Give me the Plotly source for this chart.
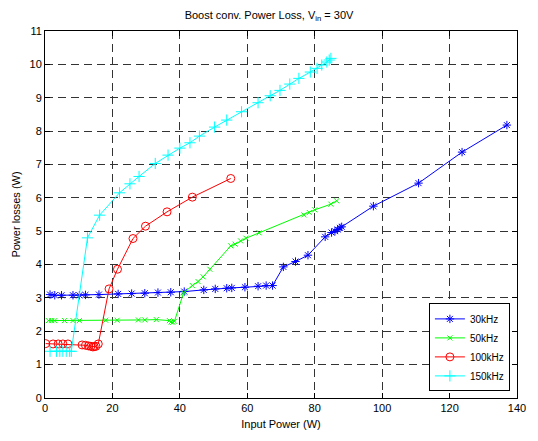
import plotly.graph_objects as go

# 30 kHz
x30 = [1.5, 2.9, 4.9, 8.3, 10.2, 12.0, 16.0, 21.7, 25.7, 29.6, 33.5, 37.3, 41.3, 47.1, 50.5,
       53.9, 55.4, 59.3, 63.2, 65.6, 67.5, 70.7, 74.3, 78.0, 83.1, 85.0, 86.0, 86.8, 87.5,
       88.0, 97.4, 110.8, 123.7, 137.0]
y30 = [3.10, 3.08, 3.08, 3.08, 3.08, 3.09, 3.10, 3.12, 3.13, 3.14, 3.16, 3.17, 3.19, 3.24, 3.27,
       3.29, 3.30, 3.32, 3.35, 3.37, 3.37, 3.93, 4.09, 4.28, 4.83, 4.96, 5.00, 5.05, 5.10,
       5.13, 5.75, 6.44, 7.37, 8.18]

# 50 kHz
x50 = [1.0, 2.0, 2.9, 5.8, 8.3, 10.2, 18.0, 21.4, 27.7, 29.6, 33.0, 36.9, 37.4, 37.9, 38.4,
       41.1, 43.7, 45.4, 46.9, 48.9, 55.1, 56.4, 58.0, 59.6, 63.5, 76.8, 78.4, 80.0, 84.8, 86.5]
y50 = [2.32, 2.32, 2.32, 2.32, 2.32, 2.32, 2.33, 2.33, 2.34, 2.34, 2.35, 2.32, 2.28, 2.27, 2.30,
       3.15, 3.37, 3.49, 3.63, 3.86, 4.56, 4.61, 4.71, 4.79, 4.95, 5.49, 5.56, 5.64, 5.81, 5.91]

# 100 kHz
x100 = [0.2, 2.4, 3.9, 5.3, 6.8, 11.0, 12.0, 12.9, 13.6, 14.2, 14.6, 15.1, 15.8,
        19.0, 21.5, 26.1, 29.8, 36.2, 43.7, 55.1]
y100 = [1.63, 1.62, 1.62, 1.62, 1.62, 1.59, 1.58, 1.56, 1.55, 1.53, 1.54, 1.55, 1.62,
        3.27, 3.86, 4.78, 5.15, 5.58, 6.02, 6.58]

# 150 kHz
x150 = [1.5, 3.4, 4.4, 5.3, 6.3, 7.3, 7.8, 12.6, 16.2, 22.1, 25.2, 27.9, 32.7, 36.5, 40.0,
        43.0, 45.8, 50.3, 53.9, 58.3, 63.2, 66.8, 69.7, 72.6, 75.3, 78.7, 80.7, 82.1, 83.6,
        84.3, 84.8]
y150 = [1.40, 1.40, 1.40, 1.40, 1.40, 1.40, 1.40, 4.80, 5.48, 6.15, 6.42, 6.64, 7.03, 7.28, 7.49,
        7.65, 7.85, 8.12, 8.33, 8.58, 8.85, 9.06, 9.22, 9.41, 9.58, 9.77, 9.88, 9.98, 10.07,
        10.13, 10.18]

series = [
    ("30kHz", x30, y30, "#0000ff", "asterisk-open", 7),
    ("50kHz", x50, y50, "#00ff00", "x-thin-open", 5),
    ("100kHz", x100, y100, "#ff0000", "circle-open", 8),
    ("150kHz", x150, y150, "#00ffff", "cross-thin-open", 8),
]

fig = go.Figure()
for name, xs, ys, col, sym, sz in series:
    fig.add_trace(go.Scatter(
        x=xs, y=ys, name=name, mode="lines+markers",
        line=dict(color=col, width=1),
        marker=dict(symbol=sym, size=sz, color=col, line=dict(color=col, width=1)),
    ))

axis_common = dict(
    showline=True, linecolor="black", linewidth=1, mirror="ticks",
    ticks="inside", ticklen=5, tickcolor="black",
    showgrid=True, gridcolor="#333333", gridwidth=1, griddash="8px,5px",
    zeroline=False, tickfont=dict(family="Liberation Sans, Arial", size=11, color="black"),
)

fig.update_layout(
    width=538, height=441,
    margin=dict(l=45, r=13, t=31, b=34),
    paper_bgcolor="white", plot_bgcolor="white",
    font=dict(family="Liberation Sans, Arial", size=11, color="black"),
    title=dict(text="Boost conv. Power Loss, V<sub>in</sub> = 30V", x=0.5, xanchor="center",
               y=0.975, yanchor="top", font=dict(size=11)),
    xaxis=dict(range=[0, 140], dtick=20, title=dict(text="Input Power (W)", standoff=7,
               font=dict(size=11)), **axis_common),
    yaxis=dict(range=[0, 11], dtick=1, title=dict(text="Power losses (W)", standoff=6,
               font=dict(size=11)), **axis_common),
    legend=dict(x=0.985, y=0.018, xanchor="right", yanchor="bottom",
                bgcolor="white", bordercolor="black", borderwidth=1,
                font=dict(size=10), tracegroupgap=0, itemwidth=30),
    showlegend=True,
)

fig.write_html("out.html")
